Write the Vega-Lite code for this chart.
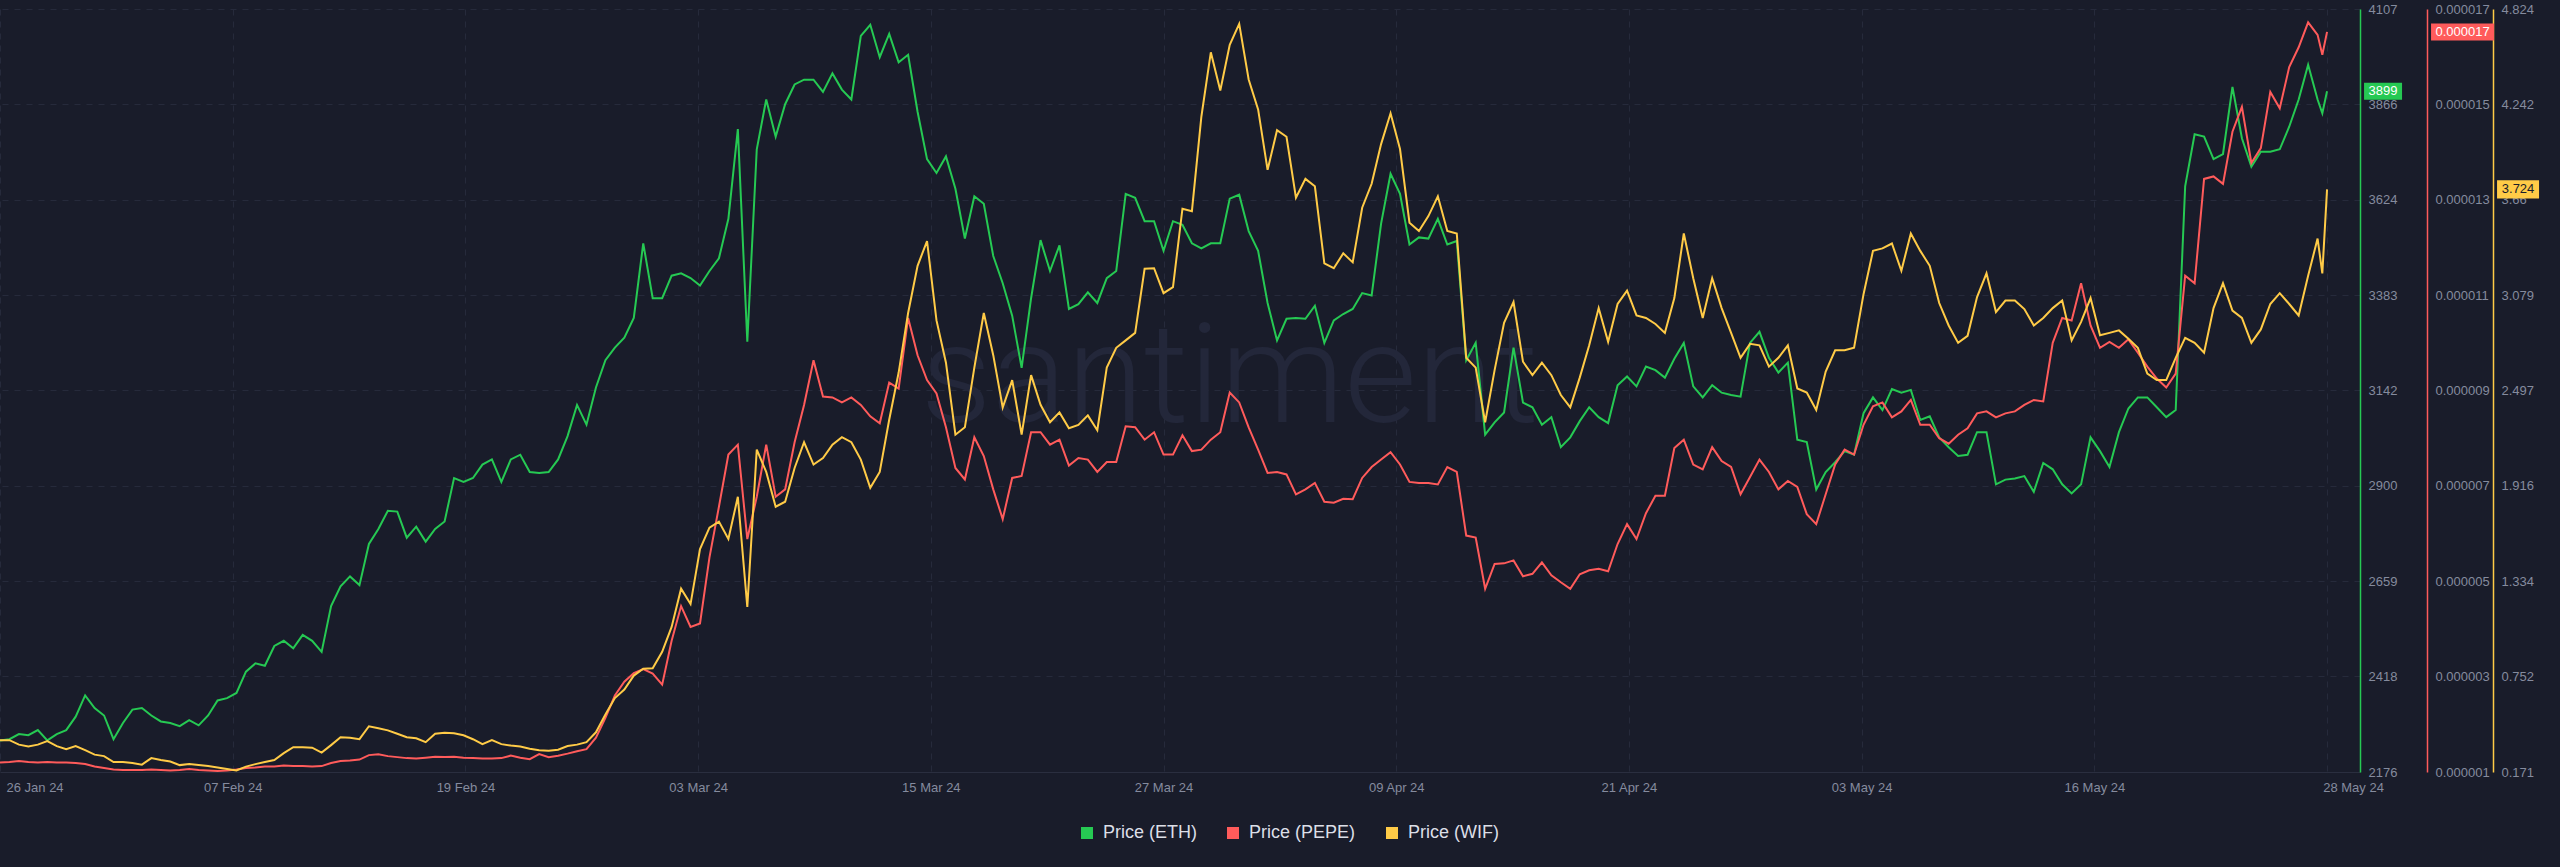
{
"$schema": "https://vega.github.io/schema/vega-lite/v6.json",
"width": 2360,
"height": 763,
"autosize": {"type": "none"},
"padding": {"left": 0, "top": 9, "right": 200, "bottom": 95},
"background": "#191c2a",
"config": {
  "view": {"stroke": null},
  "font": "Liberation Sans",
  "axis": {"labelFont": "Liberation Sans", "labelColor": "#858b9e", "labelFontSize": 13, "title": null, "labelOverlap": false}
},
"data": {"values": [
{"t":"2024-01-26T08:00","e":2256,"p":1.198e-6,"w":0.365},
{"t":"2024-01-26T20:00","e":2259,"p":1.208e-6,"w":0.365},
{"t":"2024-01-27T08:00","e":2272,"p":1.229e-6,"w":0.338},
{"t":"2024-01-27T20:00","e":2269,"p":1.208e-6,"w":0.326},
{"t":"2024-01-28T08:00","e":2282,"p":1.198e-6,"w":0.338},
{"t":"2024-01-28T20:00","e":2256,"p":1.208e-6,"w":0.359},
{"t":"2024-01-29T08:00","e":2272,"p":1.198e-6,"w":0.329},
{"t":"2024-01-29T20:00","e":2282,"p":1.198e-6,"w":0.310},
{"t":"2024-01-30T08:00","e":2316,"p":1.187e-6,"w":0.329},
{"t":"2024-01-30T20:00","e":2370,"p":1.166e-6,"w":0.304},
{"t":"2024-01-31T08:00","e":2338,"p":1.114e-6,"w":0.277},
{"t":"2024-01-31T20:00","e":2319,"p":1.083e-6,"w":0.268},
{"t":"2024-02-01T08:00","e":2259,"p":1.052e-6,"w":0.232},
{"t":"2024-02-01T20:00","e":2300,"p":1.041e-6,"w":0.232},
{"t":"2024-02-02T08:00","e":2334,"p":1.041e-6,"w":0.226},
{"t":"2024-02-02T20:00","e":2338,"p":1.041e-6,"w":0.216},
{"t":"2024-02-03T08:00","e":2319,"p":1.052e-6,"w":0.256},
{"t":"2024-02-03T20:00","e":2304,"p":1.041e-6,"w":0.244},
{"t":"2024-02-04T08:00","e":2300,"p":1.031e-6,"w":0.235},
{"t":"2024-02-04T20:00","e":2292,"p":1.041e-6,"w":0.213},
{"t":"2024-02-05T08:00","e":2307,"p":1.062e-6,"w":0.219},
{"t":"2024-02-05T20:00","e":2294,"p":1.041e-6,"w":0.213},
{"t":"2024-02-06T08:00","e":2319,"p":1.031e-6,"w":0.207},
{"t":"2024-02-06T20:00","e":2357,"p":1.020e-6,"w":0.198},
{"t":"2024-02-07T08:00","e":2363,"p":1.031e-6,"w":0.189},
{"t":"2024-02-07T20:00","e":2376,"p":1.052e-6,"w":0.180},
{"t":"2024-02-08T08:00","e":2430,"p":1.083e-6,"w":0.204},
{"t":"2024-02-08T20:00","e":2451,"p":1.094e-6,"w":0.219},
{"t":"2024-02-09T08:00","e":2445,"p":1.114e-6,"w":0.232},
{"t":"2024-02-09T20:00","e":2495,"p":1.114e-6,"w":0.244},
{"t":"2024-02-10T08:00","e":2508,"p":1.135e-6,"w":0.286},
{"t":"2024-02-10T20:00","e":2489,"p":1.124e-6,"w":0.322},
{"t":"2024-02-11T08:00","e":2523,"p":1.124e-6,"w":0.322},
{"t":"2024-02-11T20:00","e":2508,"p":1.114e-6,"w":0.319},
{"t":"2024-02-12T08:00","e":2480,"p":1.124e-6,"w":0.289},
{"t":"2024-02-12T20:00","e":2596,"p":1.187e-6,"w":0.335},
{"t":"2024-02-13T08:00","e":2646,"p":1.229e-6,"w":0.383},
{"t":"2024-02-13T20:00","e":2671,"p":1.239e-6,"w":0.380},
{"t":"2024-02-14T08:00","e":2649,"p":1.260e-6,"w":0.371},
{"t":"2024-02-14T20:00","e":2753,"p":1.354e-6,"w":0.450},
{"t":"2024-02-15T08:00","e":2791,"p":1.374e-6,"w":0.438},
{"t":"2024-02-15T20:00","e":2837,"p":1.333e-6,"w":0.425},
{"t":"2024-02-16T08:00","e":2835,"p":1.312e-6,"w":0.404},
{"t":"2024-02-16T20:00","e":2769,"p":1.291e-6,"w":0.383},
{"t":"2024-02-17T08:00","e":2797,"p":1.281e-6,"w":0.377},
{"t":"2024-02-17T20:00","e":2759,"p":1.301e-6,"w":0.353},
{"t":"2024-02-18T08:00","e":2791,"p":1.322e-6,"w":0.404},
{"t":"2024-02-18T20:00","e":2810,"p":1.312e-6,"w":0.410},
{"t":"2024-02-19T08:00","e":2920,"p":1.322e-6,"w":0.407},
{"t":"2024-02-19T20:00","e":2910,"p":1.301e-6,"w":0.395},
{"t":"2024-02-20T08:00","e":2920,"p":1.291e-6,"w":0.371},
{"t":"2024-02-20T20:00","e":2954,"p":1.281e-6,"w":0.341},
{"t":"2024-02-21T08:00","e":2967,"p":1.281e-6,"w":0.365},
{"t":"2024-02-21T20:00","e":2910,"p":1.291e-6,"w":0.341},
{"t":"2024-02-22T08:00","e":2967,"p":1.343e-6,"w":0.332},
{"t":"2024-02-22T20:00","e":2979,"p":1.301e-6,"w":0.326},
{"t":"2024-02-23T08:00","e":2935,"p":1.270e-6,"w":0.313},
{"t":"2024-02-23T20:00","e":2933,"p":1.374e-6,"w":0.304},
{"t":"2024-02-24T08:00","e":2935,"p":1.312e-6,"w":0.301},
{"t":"2024-02-24T20:00","e":2967,"p":1.343e-6,"w":0.307},
{"t":"2024-02-25T08:00","e":3026,"p":1.385e-6,"w":0.329},
{"t":"2024-02-25T20:00","e":3105,"p":1.437e-6,"w":0.338},
{"t":"2024-02-26T08:00","e":3055,"p":1.479e-6,"w":0.353},
{"t":"2024-02-26T20:00","e":3149,"p":1.719e-6,"w":0.413},
{"t":"2024-02-27T08:00","e":3218,"p":2.135e-6,"w":0.522},
{"t":"2024-02-27T20:00","e":3250,"p":2.604e-6,"w":0.622},
{"t":"2024-02-28T08:00","e":3275,"p":2.895e-6,"w":0.674},
{"t":"2024-02-28T20:00","e":3325,"p":3.072e-6,"w":0.759},
{"t":"2024-02-29T08:00","e":3514,"p":3.156e-6,"w":0.801},
{"t":"2024-02-29T20:00","e":3375,"p":3.062e-6,"w":0.804},
{"t":"2024-03-01T08:00","e":3375,"p":2.833e-6,"w":0.904},
{"t":"2024-03-01T20:00","e":3432,"p":3.750e-6,"w":1.056},
{"t":"2024-03-02T08:00","e":3438,"p":4.479e-6,"w":1.289},
{"t":"2024-03-02T20:00","e":3426,"p":4.041e-6,"w":1.195},
{"t":"2024-03-03T08:00","e":3407,"p":4.114e-6,"w":1.531},
{"t":"2024-03-03T20:00","e":3444,"p":5.500e-6,"w":1.661},
{"t":"2024-03-04T08:00","e":3476,"p":6.562e-6,"w":1.698},
{"t":"2024-03-04T20:00","e":3576,"p":7.656e-6,"w":1.592},
{"t":"2024-03-05T08:00","e":3803,"p":7.864e-6,"w":1.849},
{"t":"2024-03-05T20:00","e":3265,"p":5.885e-6,"w":1.177},
{"t":"2024-03-06T08:00","e":3752,"p":6.771e-6,"w":2.137},
{"t":"2024-03-06T20:00","e":3878,"p":7.864e-6,"w":2.001},
{"t":"2024-03-07T08:00","e":3784,"p":6.771e-6,"w":1.789},
{"t":"2024-03-07T20:00","e":3866,"p":6.927e-6,"w":1.819},
{"t":"2024-03-08T08:00","e":3916,"p":7.916e-6,"w":2.025},
{"t":"2024-03-08T20:00","e":3928,"p":8.698e-6,"w":2.182},
{"t":"2024-03-09T08:00","e":3928,"p":9.635e-6,"w":2.046},
{"t":"2024-03-09T20:00","e":3897,"p":8.875e-6,"w":2.086},
{"t":"2024-03-10T08:00","e":3944,"p":8.854e-6,"w":2.167},
{"t":"2024-03-10T20:00","e":3903,"p":8.750e-6,"w":2.213},
{"t":"2024-03-11T08:00","e":3878,"p":8.854e-6,"w":2.182},
{"t":"2024-03-11T20:00","e":4039,"p":8.698e-6,"w":2.076},
{"t":"2024-03-12T08:00","e":4067,"p":8.458e-6,"w":1.904},
{"t":"2024-03-12T20:00","e":3985,"p":8.313e-6,"w":2.001},
{"t":"2024-03-13T08:00","e":4044,"p":9.166e-6,"w":2.319},
{"t":"2024-03-13T20:00","e":3972,"p":9.041e-6,"w":2.607},
{"t":"2024-03-14T08:00","e":3991,"p":10.521e-6,"w":2.970},
{"t":"2024-03-14T20:00","e":3847,"p":9.739e-6,"w":3.258},
{"t":"2024-03-15T08:00","e":3727,"p":9.219e-6,"w":3.409},
{"t":"2024-03-15T20:00","e":3692,"p":8.937e-6,"w":2.925},
{"t":"2024-03-16T08:00","e":3734,"p":8.229e-6,"w":2.667},
{"t":"2024-03-16T20:00","e":3652,"p":7.375e-6,"w":2.228},
{"t":"2024-03-17T08:00","e":3526,"p":7.135e-6,"w":2.273},
{"t":"2024-03-17T20:00","e":3633,"p":8.021e-6,"w":2.637},
{"t":"2024-03-18T08:00","e":3614,"p":7.625e-6,"w":2.970},
{"t":"2024-03-18T20:00","e":3482,"p":6.927e-6,"w":2.713},
{"t":"2024-03-19T08:00","e":3413,"p":6.302e-6,"w":2.394},
{"t":"2024-03-19T20:00","e":3331,"p":7.166e-6,"w":2.561},
{"t":"2024-03-20T08:00","e":3199,"p":7.208e-6,"w":2.228},
{"t":"2024-03-20T20:00","e":3375,"p":8.125e-6,"w":2.591},
{"t":"2024-03-21T08:00","e":3522,"p":8.125e-6,"w":2.410},
{"t":"2024-03-21T20:00","e":3444,"p":7.864e-6,"w":2.304},
{"t":"2024-03-22T08:00","e":3509,"p":7.969e-6,"w":2.364},
{"t":"2024-03-22T20:00","e":3348,"p":7.427e-6,"w":2.267},
{"t":"2024-03-23T08:00","e":3360,"p":7.583e-6,"w":2.288},
{"t":"2024-03-23T20:00","e":3390,"p":7.552e-6,"w":2.346},
{"t":"2024-03-24T08:00","e":3363,"p":7.292e-6,"w":2.255},
{"t":"2024-03-24T20:00","e":3426,"p":7.500e-6,"w":2.637},
{"t":"2024-03-25T08:00","e":3444,"p":7.500e-6,"w":2.758},
{"t":"2024-03-25T20:00","e":3639,"p":8.250e-6,"w":2.803},
{"t":"2024-03-26T08:00","e":3629,"p":8.229e-6,"w":2.849},
{"t":"2024-03-26T20:00","e":3570,"p":7.969e-6,"w":3.240},
{"t":"2024-03-27T08:00","e":3570,"p":8.125e-6,"w":3.243},
{"t":"2024-03-27T20:00","e":3495,"p":7.656e-6,"w":3.091},
{"t":"2024-03-28T08:00","e":3570,"p":7.656e-6,"w":3.128},
{"t":"2024-03-28T20:00","e":3561,"p":8.062e-6,"w":3.606},
{"t":"2024-03-29T08:00","e":3514,"p":7.729e-6,"w":3.591},
{"t":"2024-03-29T20:00","e":3501,"p":7.760e-6,"w":4.167},
{"t":"2024-03-30T08:00","e":3514,"p":7.969e-6,"w":4.560},
{"t":"2024-03-30T20:00","e":3514,"p":8.125e-6,"w":4.327},
{"t":"2024-03-31T08:00","e":3627,"p":8.958e-6,"w":4.606},
{"t":"2024-03-31T20:00","e":3637,"p":8.750e-6,"w":4.733},
{"t":"2024-04-01T08:00","e":3545,"p":8.229e-6,"w":4.394},
{"t":"2024-04-01T20:00","e":3495,"p":7.760e-6,"w":4.212},
{"t":"2024-04-02T08:00","e":3363,"p":7.271e-6,"w":3.843},
{"t":"2024-04-02T20:00","e":3268,"p":7.292e-6,"w":4.085},
{"t":"2024-04-03T08:00","e":3323,"p":7.240e-6,"w":4.045},
{"t":"2024-04-03T20:00","e":3325,"p":6.823e-6,"w":3.673},
{"t":"2024-04-04T08:00","e":3323,"p":6.927e-6,"w":3.788},
{"t":"2024-04-04T20:00","e":3356,"p":7.062e-6,"w":3.743},
{"t":"2024-04-05T08:00","e":3262,"p":6.667e-6,"w":3.273},
{"t":"2024-04-05T20:00","e":3319,"p":6.646e-6,"w":3.243},
{"t":"2024-04-06T08:00","e":3335,"p":6.729e-6,"w":3.334},
{"t":"2024-04-06T20:00","e":3348,"p":6.719e-6,"w":3.279},
{"t":"2024-04-07T08:00","e":3388,"p":7.166e-6,"w":3.612},
{"t":"2024-04-07T20:00","e":3382,"p":7.396e-6,"w":3.758},
{"t":"2024-04-08T08:00","e":3564,"p":7.552e-6,"w":4.000},
{"t":"2024-04-08T20:00","e":3690,"p":7.708e-6,"w":4.188},
{"t":"2024-04-09T08:00","e":3639,"p":7.448e-6,"w":3.970},
{"t":"2024-04-09T20:00","e":3511,"p":7.083e-6,"w":3.521},
{"t":"2024-04-10T08:00","e":3529,"p":7.062e-6,"w":3.470},
{"t":"2024-04-10T20:00","e":3526,"p":7.062e-6,"w":3.561},
{"t":"2024-04-11T08:00","e":3576,"p":7.031e-6,"w":3.682},
{"t":"2024-04-11T20:00","e":3511,"p":7.396e-6,"w":3.470},
{"t":"2024-04-12T08:00","e":3520,"p":7.292e-6,"w":3.455},
{"t":"2024-04-12T20:00","e":3218,"p":5.958e-6,"w":2.697},
{"t":"2024-04-13T08:00","e":3262,"p":5.916e-6,"w":2.637},
{"t":"2024-04-13T20:00","e":3030,"p":4.843e-6,"w":2.304},
{"t":"2024-04-14T08:00","e":3061,"p":5.364e-6,"w":2.622},
{"t":"2024-04-14T20:00","e":3086,"p":5.375e-6,"w":2.910},
{"t":"2024-04-15T08:00","e":3250,"p":5.437e-6,"w":3.037},
{"t":"2024-04-15T20:00","e":3111,"p":5.104e-6,"w":2.673},
{"t":"2024-04-16T08:00","e":3099,"p":5.156e-6,"w":2.591},
{"t":"2024-04-16T20:00","e":3055,"p":5.396e-6,"w":2.667},
{"t":"2024-04-17T08:00","e":3074,"p":5.125e-6,"w":2.591},
{"t":"2024-04-17T20:00","e":2998,"p":4.979e-6,"w":2.470},
{"t":"2024-04-18T08:00","e":3023,"p":4.843e-6,"w":2.395},
{"t":"2024-04-18T20:00","e":3064,"p":5.146e-6,"w":2.576},
{"t":"2024-04-19T08:00","e":3099,"p":5.229e-6,"w":2.773},
{"t":"2024-04-19T20:00","e":3074,"p":5.260e-6,"w":3.000},
{"t":"2024-04-20T08:00","e":3059,"p":5.208e-6,"w":2.794},
{"t":"2024-04-20T20:00","e":3155,"p":5.781e-6,"w":3.025},
{"t":"2024-04-21T08:00","e":3177,"p":6.198e-6,"w":3.106},
{"t":"2024-04-21T20:00","e":3152,"p":5.885e-6,"w":2.955},
{"t":"2024-04-22T08:00","e":3202,"p":6.427e-6,"w":2.940},
{"t":"2024-04-22T20:00","e":3193,"p":6.792e-6,"w":2.903},
{"t":"2024-04-23T08:00","e":3174,"p":6.792e-6,"w":2.849},
{"t":"2024-04-23T20:00","e":3222,"p":7.792e-6,"w":3.061},
{"t":"2024-04-24T08:00","e":3262,"p":7.969e-6,"w":3.455},
{"t":"2024-04-24T20:00","e":3152,"p":7.448e-6,"w":3.182},
{"t":"2024-04-25T08:00","e":3124,"p":7.344e-6,"w":2.940},
{"t":"2024-04-25T20:00","e":3155,"p":7.812e-6,"w":3.182},
{"t":"2024-04-26T08:00","e":3136,"p":7.521e-6,"w":3.000},
{"t":"2024-04-26T20:00","e":3130,"p":7.396e-6,"w":2.849},
{"t":"2024-04-27T08:00","e":3126,"p":6.823e-6,"w":2.697},
{"t":"2024-04-27T20:00","e":3262,"p":7.187e-6,"w":2.782},
{"t":"2024-04-28T08:00","e":3290,"p":7.552e-6,"w":2.773},
{"t":"2024-04-28T20:00","e":3224,"p":7.292e-6,"w":2.643},
{"t":"2024-04-29T08:00","e":3187,"p":6.927e-6,"w":2.697},
{"t":"2024-04-29T20:00","e":3212,"p":7.104e-6,"w":2.773},
{"t":"2024-04-30T08:00","e":3017,"p":6.979e-6,"w":2.510},
{"t":"2024-04-30T20:00","e":3011,"p":6.406e-6,"w":2.485},
{"t":"2024-05-01T08:00","e":2891,"p":6.198e-6,"w":2.379},
{"t":"2024-05-01T20:00","e":2935,"p":6.823e-6,"w":2.613},
{"t":"2024-05-02T08:00","e":2960,"p":7.448e-6,"w":2.743},
{"t":"2024-05-02T20:00","e":2988,"p":7.760e-6,"w":2.743},
{"t":"2024-05-03T08:00","e":2979,"p":7.656e-6,"w":2.758},
{"t":"2024-05-03T20:00","e":3084,"p":8.281e-6,"w":3.085},
{"t":"2024-05-04T08:00","e":3124,"p":8.667e-6,"w":3.349},
{"t":"2024-05-04T20:00","e":3092,"p":8.750e-6,"w":3.364},
{"t":"2024-05-05T08:00","e":3145,"p":8.437e-6,"w":3.394},
{"t":"2024-05-05T20:00","e":3136,"p":8.562e-6,"w":3.228},
{"t":"2024-05-06T08:00","e":3143,"p":8.802e-6,"w":3.455},
{"t":"2024-05-06T20:00","e":3067,"p":8.281e-6,"w":3.349},
{"t":"2024-05-07T08:00","e":3076,"p":8.281e-6,"w":3.258},
{"t":"2024-05-07T20:00","e":3023,"p":7.999e-6,"w":3.031},
{"t":"2024-05-08T08:00","e":2998,"p":7.885e-6,"w":2.894},
{"t":"2024-05-08T20:00","e":2976,"p":8.072e-6,"w":2.788},
{"t":"2024-05-09T08:00","e":2979,"p":8.208e-6,"w":2.831},
{"t":"2024-05-09T20:00","e":3036,"p":8.521e-6,"w":3.067},
{"t":"2024-05-10T08:00","e":3036,"p":8.562e-6,"w":3.212},
{"t":"2024-05-10T20:00","e":2904,"p":8.437e-6,"w":2.976},
{"t":"2024-05-11T08:00","e":2916,"p":8.521e-6,"w":3.046},
{"t":"2024-05-11T20:00","e":2919,"p":8.562e-6,"w":3.046},
{"t":"2024-05-12T08:00","e":2925,"p":8.698e-6,"w":2.994},
{"t":"2024-05-12T20:00","e":2885,"p":8.802e-6,"w":2.894},
{"t":"2024-05-13T08:00","e":2958,"p":8.771e-6,"w":2.940},
{"t":"2024-05-13T20:00","e":2942,"p":10.000e-6,"w":3.000},
{"t":"2024-05-14T08:00","e":2904,"p":10.521e-6,"w":3.046},
{"t":"2024-05-14T20:00","e":2881,"p":10.469e-6,"w":2.803},
{"t":"2024-05-15T08:00","e":2904,"p":11.250e-6,"w":2.916},
{"t":"2024-05-15T20:00","e":3023,"p":10.364e-6,"w":3.061},
{"t":"2024-05-16T08:00","e":2988,"p":9.896e-6,"w":2.834},
{"t":"2024-05-16T20:00","e":2948,"p":10.021e-6,"w":2.849},
{"t":"2024-05-17T08:00","e":3036,"p":9.896e-6,"w":2.864},
{"t":"2024-05-17T20:00","e":3096,"p":10.073e-6,"w":2.813},
{"t":"2024-05-18T08:00","e":3124,"p":9.792e-6,"w":2.758},
{"t":"2024-05-18T20:00","e":3124,"p":9.500e-6,"w":2.601},
{"t":"2024-05-19T08:00","e":3099,"p":9.250e-6,"w":2.561},
{"t":"2024-05-19T20:00","e":3074,"p":9.062e-6,"w":2.561},
{"t":"2024-05-20T08:00","e":3092,"p":9.354e-6,"w":2.697},
{"t":"2024-05-20T20:00","e":3658,"p":11.406e-6,"w":2.819},
{"t":"2024-05-21T08:00","e":3790,"p":11.250e-6,"w":2.788},
{"t":"2024-05-21T20:00","e":3784,"p":13.437e-6,"w":2.728},
{"t":"2024-05-22T08:00","e":3727,"p":13.489e-6,"w":3.000},
{"t":"2024-05-22T20:00","e":3740,"p":13.333e-6,"w":3.152},
{"t":"2024-05-23T08:00","e":3910,"p":14.427e-6,"w":2.985},
{"t":"2024-05-23T20:00","e":3780,"p":14.948e-6,"w":2.940},
{"t":"2024-05-24T08:00","e":3708,"p":13.771e-6,"w":2.788},
{"t":"2024-05-24T20:00","e":3746,"p":14.083e-6,"w":2.870},
{"t":"2024-05-25T08:00","e":3746,"p":15.260e-6,"w":3.025},
{"t":"2024-05-25T20:00","e":3752,"p":14.917e-6,"w":3.091},
{"t":"2024-05-26T08:00","e":3809,"p":15.781e-6,"w":3.025},
{"t":"2024-05-26T20:00","e":3878,"p":16.198e-6,"w":2.955},
{"t":"2024-05-27T08:00","e":3966,"p":16.719e-6,"w":3.197},
{"t":"2024-05-27T20:00","e":3878,"p":16.458e-6,"w":3.424},
{"t":"2024-05-28T02:00","e":3843,"p":16.042e-6,"w":3.212},
{"t":"2024-05-28T08:00","e":3899,"p":16.52e-6,"w":3.724}
]},
"encoding": {
  "x": {
    "field": "t", "type": "temporal",
    "scale": {"domain": [{"year": 2024, "month": 1, "date": 26, "hours": 8}, {"year": 2024, "month": 5, "date": 30, "hours": 1, "minutes": 48}]},
    "axis": {
      "values": [
        {"year": 2024, "month": 1, "date": 26, "hours": 8},
        {"year": 2024, "month": 2, "date": 7, "hours": 15, "minutes": 12},
        {"year": 2024, "month": 2, "date": 19, "hours": 22, "minutes": 24},
        {"year": 2024, "month": 3, "date": 3, "hours": 5, "minutes": 36},
        {"year": 2024, "month": 3, "date": 15, "hours": 12, "minutes": 48},
        {"year": 2024, "month": 3, "date": 27, "hours": 20},
        {"year": 2024, "month": 4, "date": 9, "hours": 3, "minutes": 12},
        {"year": 2024, "month": 4, "date": 21, "hours": 10, "minutes": 24},
        {"year": 2024, "month": 5, "date": 3, "hours": 17, "minutes": 36},
        {"year": 2024, "month": 5, "date": 16, "hours": 0, "minutes": 48},
        {"year": 2024, "month": 5, "date": 28, "hours": 8}
      ],
      "format": "%d %b %y",
      "labelFlush": false,
      "ticks": false,
      "domain": true,
      "domainColor": "#2a2e3f",
      "grid": true,
      "gridColor": "#262a3b",
      "gridDash": [6, 6],
      "labelPadding": 9,
      "labelAlign": {"condition": {"test": "datum.index == 0", "value": "left"}, "value": "center"},
      "labelOffset": {"condition": [{"test": "datum.index == 0", "value": 6}, {"test": "datum.index == 1", "value": 26}], "value": 0}
    }
  }
},
"layer": [
  {
    "layer": [
      {
        "transform": [{"filter": {"field": "t", "equal": {"year": 2024, "month": 3, "date": 31, "hours": 8}}}],
        "mark": {"type": "text", "font": "Roboto", "fontWeight": 300, "fontSize": 140, "color": "#23273a", "align": "center", "baseline": "alphabetic", "clip": false},
        "encoding": {
          "y": {"datum": 3062, "type": "quantitative"},
          "text": {"value": "santiment"}
        }
      },
      {
        "mark": {"type": "line", "strokeWidth": 2},
        "encoding": {
          "y": {
            "field": "e", "type": "quantitative",
            "scale": {"domain": [2176, 4107], "nice": false, "zero": false},
            "axis": {
              "orient": "right", "offset": 0,
              "values": [2176, 2418, 2659, 2900, 3142, 3383, 3624, 3866, 4107],
              "format": "d", "grid": true, "gridColor": "#262a3b", "gridDash": [6, 6],
              "ticks": false, "domainColor": "#26c953", "domainWidth": 1.5,
              "labelPadding": 8, "labelBaseline": "middle", "labelFlush": false, "title": null
            }
          },
          "color": {
            "datum": "Price (ETH)", "type": "nominal",
            "scale": {"domain": ["Price (ETH)", "Price (PEPE)", "Price (WIF)"], "range": ["#26c953", "#ff5b5b", "#ffcb47"]},
            "legend": {
              "orient": "none", "legendX": 1078, "legendY": 815, "direction": "horizontal",
              "title": null, "symbolType": "square", "symbolSize": 144, "symbolStrokeWidth": 0,
              "labelFontSize": 18, "labelColor": "#dcdfe7", "labelFont": "Liberation Sans",
              "labelOffset": 7, "columnPadding": 27, "padding": 0,
              "encode": {"symbols": {"update": {"fill": {"scale": "color", "field": "value"}, "fillOpacity": {"value": 1}}}}
            }
          }
        }
      },
      {
        "transform": [{"filter": {"field": "t", "equal": {"year": 2024, "month": 5, "date": 28, "hours": 8}}}],
        "mark": {"type": "point", "shape": "M-1,-0.447L1,-0.447L1,0.447L-1,0.447Z", "size": 1444, "filled": true, "opacity": 1, "color": "#26c953", "xOffset": 56, "clip": false},
        "encoding": {"y": {"field": "e", "type": "quantitative"}}
      },
      {
        "transform": [{"filter": {"field": "t", "equal": {"year": 2024, "month": 5, "date": 28, "hours": 8}}}],
        "mark": {"type": "text", "color": "#ffffff", "fontSize": 13, "align": "center", "baseline": "middle", "dx": 56, "clip": false},
        "encoding": {
          "y": {"field": "e", "type": "quantitative"},
          "text": {"field": "e", "type": "quantitative", "format": "d"}
        }
      }
    ]
  },
  {
    "layer": [
      {
        "mark": {"type": "line", "strokeWidth": 2},
        "encoding": {
          "y": {
            "field": "p", "type": "quantitative",
            "scale": {"domain": [0.000001, 0.000017], "nice": false, "zero": false},
            "axis": {
              "orient": "right", "offset": 67,
              "values": [0.000001, 0.000003, 0.000005, 0.000007, 0.000009, 0.000011, 0.000013, 0.000015, 0.000017],
              "format": ".6f", "grid": false, "ticks": false,
              "domainColor": "#ff5b5b", "domainWidth": 1.5,
              "labelPadding": 8, "labelBaseline": "middle", "labelFlush": false, "title": null
            }
          },
          "color": {
            "datum": "Price (PEPE)", "type": "nominal",
            "scale": {"domain": ["Price (ETH)", "Price (PEPE)", "Price (WIF)"], "range": ["#26c953", "#ff5b5b", "#ffcb47"]}
          }
        }
      },
      {
        "transform": [{"filter": {"field": "t", "equal": {"year": 2024, "month": 5, "date": 28, "hours": 8}}}],
        "mark": {"type": "point", "shape": "M-1,-0.27L1,-0.27L1,0.27L-1,0.27Z", "size": 3969, "filled": true, "opacity": 1, "color": "#ff5b5b", "xOffset": 135.5, "clip": false},
        "encoding": {"y": {"field": "p", "type": "quantitative"}}
      },
      {
        "transform": [{"filter": {"field": "t", "equal": {"year": 2024, "month": 5, "date": 28, "hours": 8}}}],
        "mark": {"type": "text", "color": "#ffffff", "fontSize": 13, "align": "center", "baseline": "middle", "dx": 135.5, "clip": false},
        "encoding": {
          "y": {"field": "p", "type": "quantitative"},
          "text": {"field": "p", "type": "quantitative", "format": ".6f"}
        }
      }
    ]
  },
  {
    "layer": [
      {
        "mark": {"type": "line", "strokeWidth": 2},
        "encoding": {
          "y": {
            "field": "w", "type": "quantitative",
            "scale": {"domain": [0.171, 4.824], "nice": false, "zero": false},
            "axis": {
              "orient": "right", "offset": 133,
              "values": [0.171, 0.752, 1.334, 1.916, 2.497, 3.079, 3.66, 4.242, 4.824],
              "format": ".3~f", "grid": false, "ticks": false,
              "domainColor": "#ffcb47", "domainWidth": 1.5,
              "labelPadding": 8, "labelBaseline": "middle", "labelFlush": false, "title": null
            }
          },
          "color": {
            "datum": "Price (WIF)", "type": "nominal",
            "scale": {"domain": ["Price (ETH)", "Price (PEPE)", "Price (WIF)"], "range": ["#26c953", "#ff5b5b", "#ffcb47"]}
          }
        }
      },
      {
        "transform": [{"filter": {"field": "t", "equal": {"year": 2024, "month": 5, "date": 28, "hours": 8}}}],
        "mark": {"type": "point", "shape": "M-1,-0.429L1,-0.429L1,0.429L-1,0.429Z", "size": 1764, "filled": true, "opacity": 1, "color": "#ffcb47", "xOffset": 191, "clip": false},
        "encoding": {"y": {"field": "w", "type": "quantitative"}}
      },
      {
        "transform": [{"filter": {"field": "t", "equal": {"year": 2024, "month": 5, "date": 28, "hours": 8}}}],
        "mark": {"type": "text", "color": "#1a1d2b", "fontSize": 13, "align": "center", "baseline": "middle", "dx": 191, "clip": false},
        "encoding": {
          "y": {"field": "w", "type": "quantitative"},
          "text": {"field": "w", "type": "quantitative", "format": ".3f"}
        }
      }
    ]
  }
],
"resolve": {"scale": {"y": "independent"}, "axis": {"y": "independent"}}
}
